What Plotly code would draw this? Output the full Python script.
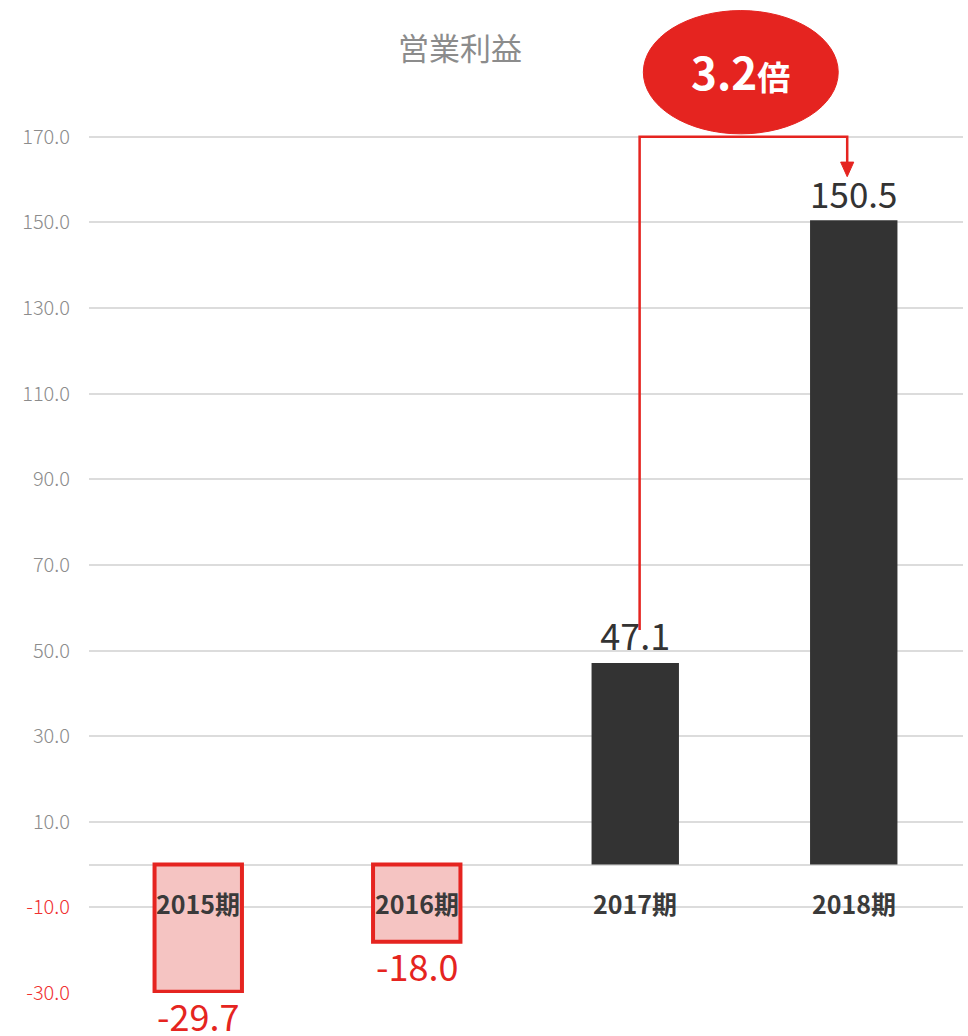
import plotly.graph_objects as go

# ---- data ----
categories = ["2015期", "2016期", "2017期", "2018期"]
values = [-29.7, -18.0, 47.1, 150.5]
value_labels = ["-29.7", "-18.0", "47.1", "150.5"]
pos_ticks = [170, 150, 130, 110, 90, 70, 50, 30, 10]
neg_ticks = [-10, -30]
growth_label = "3.2"
growth_unit = "倍"
title_text = "営業利益"

# ---- styles ----
FONT = "Noto Sans CJK JP"
RED = "#e52420"
DARK = "#333333"
PINK = "#f5c4c2"
GRAY = "#8c8c8c"
GRID = "#dcdcdc"

Y_RANGE = [-30, 201.5]

fill = [PINK if v < 0 else DARK for v in values]
line_col = [RED if v < 0 else DARK for v in values]
line_w = [4 if v < 0 else 0 for v in values]
txt_pos = ["none" if v < 0 else "outside" for v in values]

fig = go.Figure()
fig.add_trace(go.Bar(
    x=categories, y=values, width=0.40,
    marker=dict(color=fill, line=dict(color=line_col, width=line_w)),
    text=value_labels, textposition=txt_pos, cliponaxis=False,
    textfont=dict(family=FONT, size=36, color=DARK),
    showlegend=False, hoverinfo="skip",
))
# dummy trace to register the overlay axis that carries the red negative labels
fig.add_trace(go.Scatter(x=categories, y=[None] * len(categories), yaxis="y2",
                         showlegend=False, hoverinfo="skip"))

all_ticks = pos_ticks + neg_ticks
fig.update_layout(
    width=968, height=1036,
    margin=dict(l=89, r=5, t=2, b=43),
    paper_bgcolor="white", plot_bgcolor="white",
    font=dict(family=FONT),
    title=dict(text=title_text, x=460 / 968, xanchor="center", xref="container",
               y=1 - 49 / 1036, yanchor="middle", yref="container",
               font=dict(family=FONT, size=31, color=GRAY)),
    xaxis=dict(showticklabels=False, showgrid=False, zeroline=False, showline=False,
               range=[-0.5, 3.5], fixedrange=True, automargin=False),
    yaxis=dict(range=Y_RANGE, tickvals=all_ticks,
               ticktext=[f"{t:.1f}" for t in pos_ticks] + [""] * len(neg_ticks),
               tickfont=dict(family=FONT, size=20, color=GRAY, weight=300),
               showgrid=True, gridcolor=GRID, gridwidth=1.5,
               zeroline=True, zerolinecolor=GRID, zerolinewidth=2,
               showline=False, ticklabelstandoff=18, automargin=False),
    yaxis2=dict(range=Y_RANGE, overlaying="y", side="left", tickvals=neg_ticks,
                ticktext=[f"{t:.1f}" for t in neg_ticks],
                tickfont=dict(family=FONT, size=20, color="#f03030", weight=300),
                showgrid=False, zeroline=False, showline=False, ticklabelstandoff=18,
                automargin=False),
    bargap=0.6,
)

# negative value labels just below their bars
for c, v, lab in zip(categories, values, value_labels):
    if v < 0:
        fig.add_annotation(x=c, y=v, text=lab, showarrow=False,
                           font=dict(family=FONT, size=36, color=RED),
                           xanchor="center", yanchor="top", yshift=5)

# category labels, placed just below the zero line
for c in categories:
    fig.add_annotation(x=c, y=-9.0, text=f"<b>{c}</b>", showarrow=False,
                       font=dict(family=FONT, size=25, color="#3a3a3a"),
                       xanchor="center", yanchor="middle")

# connector from 2017 to 2018 labels
i_from, i_to = 2, 3
x_from = i_from + 0.02
x_to = i_to - 0.03
y_low = 54.8
y_top = pos_ticks[0]
tip_y = 160.7
base_y = 163.7
half_w = 0.03
fig.add_shape(type="path",
              path=f"M {x_from} {y_low} L {x_from} {y_top} L {x_to} {y_top} L {x_to} {base_y}",
              xref="x", yref="y", line=dict(color=RED, width=2.5), layer="above")
fig.add_shape(type="path",
              path=f"M {x_to - half_w} {base_y + 0.4} L {x_to + half_w} {base_y + 0.4} L {x_to} {tip_y} Z",
              xref="x", yref="y", fillcolor=RED, line=dict(color=RED, width=1), layer="above")

# red badge
fig.add_shape(type="circle", xref="x", yref="y",
              x0=2.037, x1=2.929, y0=170.7, y1=199.5,
              fillcolor="#e52420", line=dict(color="#e52420", width=1), layer="above")
fig.add_annotation(x=(2.037 + 2.929) / 2, y=185.4, xref="x", yref="y",
                   text=f"<b>{growth_label}<span style='font-size:33px'>{growth_unit}</span></b>",
                   showarrow=False, font=dict(family=FONT, size=44, color="white"),
                   xanchor="center", yanchor="middle")

fig.write_html("out.html", config={"displayModeBar": False},
               post_script="document.body.style.margin='0';document.body.style.overflow='hidden';")
